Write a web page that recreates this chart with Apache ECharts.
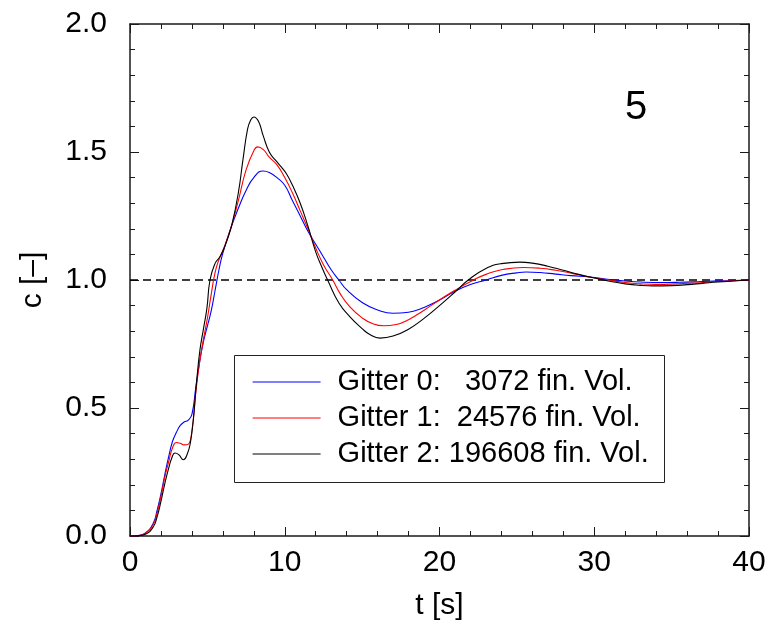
<!DOCTYPE html>
<html>
<head>
<meta charset="utf-8">
<title>c(t)</title>
<script src="https://cdn.jsdelivr.net/npm/echarts@6/dist/echarts.min.js"></script>
<style>
  html, body { margin: 0; padding: 0; background: #fff; }
  #chart { width: 769px; height: 626px; }
</style>
</head>
<body>
<div id="chart"></div>
<script>
// Concentration response c(t) for three grid refinements

const seriesNames = [
  'Gitter 0:   3072 fin. Vol.',
  'Gitter 1:  24576 fin. Vol.',
  'Gitter 2: 196608 fin. Vol.'
];

const xTicks = [0, 10, 20, 30, 40];
const yTicks = [0.0, 0.5, 1.0, 1.5, 2.0];
const refLevel = 1.0;
const panelLabel = '5';

// Gitter 0
const t0 = [0, 0.5, 1.0, 1.5, 1.75, 2.0, 2.25, 2.5, 2.75, 3.0, 3.25, 3.5, 3.75, 4.0, 4.25, 4.5, 4.75, 5.0, 5.25, 5.5, 5.75, 6.0, 6.5, 7.0, 7.5, 8.0, 8.6, 9.0, 9.5, 10.0, 10.5, 11.0, 11.5, 12.0, 12.5, 13.0, 13.5, 14.0, 15.0, 16.0, 17.0, 18.0, 19.0, 20.0, 21.0, 22.0, 23.0, 24.0, 25.0, 25.6, 26.5, 27.5, 28.5, 29.7, 31.0, 32.0, 33.0, 34.4, 35.5, 37.0, 38.5, 40.0];
const c0 = [0, 0.002, 0.012, 0.05, 0.1, 0.165, 0.24, 0.31, 0.37, 0.405, 0.432, 0.445, 0.452, 0.475, 0.58, 0.68, 0.76, 0.82, 0.88, 0.96, 1.04, 1.105, 1.2, 1.28, 1.35, 1.4, 1.426, 1.42, 1.4, 1.37, 1.31, 1.25, 1.19, 1.14, 1.09, 1.04, 1.0, 0.962, 0.912, 0.883, 0.87, 0.874, 0.893, 0.922, 0.956, 0.982, 1.0, 1.018, 1.028, 1.031, 1.029, 1.023, 1.017, 1.012, 1.002, 0.996, 0.992, 0.99, 0.991, 0.994, 0.997, 1.0];

// Gitter 1
const t1 = [0, 0.5, 1.0, 1.5, 1.75, 2.0, 2.25, 2.5, 2.75, 3.0, 3.25, 3.5, 3.75, 4.0, 4.25, 4.5, 4.75, 5.0, 5.25, 5.5, 5.75, 6.0, 6.5, 7.0, 7.5, 8.0, 8.25, 8.6, 9.0, 9.5, 10.0, 10.5, 11.0, 11.5, 12.0, 12.5, 13.1, 13.6, 14.2, 15.0, 15.7, 16.4, 17.2, 18.0, 19.0, 20.0, 21.0, 22.2, 23.0, 24.0, 25.4, 26.5, 27.5, 28.5, 29.7, 31.0, 32.0, 33.0, 34.0, 35.0, 36.5, 38.0, 40.0];
const c1 = [0, 0.001, 0.01, 0.045, 0.09, 0.155, 0.23, 0.29, 0.345, 0.365, 0.362, 0.356, 0.358, 0.41, 0.56, 0.68, 0.77, 0.85, 0.945, 1.03, 1.08, 1.115, 1.2, 1.31, 1.43, 1.505, 1.52, 1.51, 1.48, 1.45, 1.4, 1.34, 1.27, 1.2, 1.125, 1.06, 1.0, 0.945, 0.896, 0.852, 0.829, 0.821, 0.826, 0.845, 0.882, 0.922, 0.96, 1.0, 1.022, 1.04, 1.049, 1.046, 1.038, 1.027, 1.012, 0.999, 0.99, 0.985, 0.983, 0.984, 0.988, 0.994, 1.0];

// Gitter 2
const t2 = [0, 0.5, 1.0, 1.5, 1.75, 2.0, 2.25, 2.5, 2.7, 2.9, 3.15, 3.45, 3.7, 3.9, 4.1, 4.3, 4.52, 4.75, 4.97, 5.17, 5.5, 5.8, 6.03, 6.3, 6.6, 7.0, 7.3, 7.6, 7.8, 8.0, 8.3, 8.6, 9.0, 9.4, 9.8, 10.1, 10.5, 11.0, 11.5, 12.0, 12.4, 12.77, 13.5, 14.2, 15.0, 15.5, 16.15, 17.0, 18.0, 19.0, 20.0, 21.0, 21.86, 23.0, 24.0, 25.2, 26.0, 27.0, 28.0, 29.0, 30.0, 31.0, 32.0, 33.0, 33.8, 35.0, 36.0, 37.0, 38.0, 39.0, 40.0];
const c2 = [0, 0.001, 0.007, 0.035, 0.075, 0.135, 0.205, 0.265, 0.305, 0.324, 0.318, 0.298, 0.32, 0.364, 0.46, 0.6, 0.727, 0.81, 0.89, 1.0, 1.065, 1.09, 1.117, 1.16, 1.22, 1.34, 1.47, 1.59, 1.625, 1.637, 1.62, 1.565, 1.5, 1.468, 1.44, 1.416, 1.37, 1.3, 1.21, 1.11, 1.05, 1.0, 0.91, 0.857, 0.81, 0.787, 0.773, 0.781, 0.808, 0.85, 0.9, 0.953, 1.0, 1.045, 1.064, 1.07, 1.066, 1.054, 1.038, 1.022, 1.008, 0.995, 0.985, 0.979, 0.977, 0.978, 0.982, 0.987, 0.992, 0.996, 1.0];

const lineColors = ['#0000ff', '#ff0000', '#000000'];

const FONT = '"Liberation Sans", Arial, Helvetica, sans-serif';
const frameColor = '#1a1a1a';

function pairs(ts, cs) {
  return ts.map((t, i) => [t, cs[i]]);
}

const chart = echarts.init(document.getElementById('chart'), null, { renderer: 'canvas' });

const xMin = xTicks[0], xMax = xTicks[xTicks.length - 1];
const yMin = yTicks[0], yMax = yTicks[yTicks.length - 1];

function xAxisCfg(pos, showLabels) {
  return {
    type: 'value', position: pos, min: xMin, max: xMax, interval: xTicks[1] - xTicks[0],
    axisLine: { show: true, onZero: false, lineStyle: { color: frameColor, width: 1.5 } },
    axisTick: { show: true, inside: true, length: 9, lineStyle: { color: frameColor, width: 1 } },
    minorTick: { show: true, splitNumber: 5, length: 5, lineStyle: { color: frameColor, width: 1 } },
    splitLine: { show: false },
    axisLabel: { show: showLabels, fontFamily: FONT, fontSize: 30, color: '#000', margin: 12 },
    name: showLabels ? 't [s]' : '',
    nameLocation: 'middle', nameGap: 55,
    nameTextStyle: { fontFamily: FONT, fontSize: 30, color: '#000' }
  };
}

function yAxisCfg(pos, showLabels) {
  return {
    type: 'value', position: pos, min: yMin, max: yMax, interval: yTicks[1] - yTicks[0],
    axisLine: { show: true, onZero: false, lineStyle: { color: frameColor, width: 1.5 } },
    axisTick: { show: true, inside: true, length: 9, lineStyle: { color: frameColor, width: 1 } },
    minorTick: { show: true, splitNumber: 5, length: 5, lineStyle: { color: frameColor, width: 1 } },
    splitLine: { show: false },
    axisLabel: {
      show: showLabels, fontFamily: FONT, fontSize: 30, color: '#000', margin: 23,
      formatter: v => v.toFixed(1)
    },
    name: showLabels ? 'c [\u2013]' : '',
    nameLocation: 'middle', nameGap: 82, nameRotate: 90,
    nameTextStyle: { fontFamily: FONT, fontSize: 30, color: '#000' }
  };
}

const dataSets = [pairs(t0, c0), pairs(t1, c1), pairs(t2, c2)];

const curveSeries = dataSets.map((d, i) => ({
  name: seriesNames[i],
  type: 'line',
  data: d,
  symbol: 'none',
  showSymbol: false,
  smooth: 0.5,
  lineStyle: { color: lineColors[i], width: 1.1 },
  itemStyle: { color: lineColors[i] },
  z: 3 + i,
  animation: false
}));

const option = {
  animation: false,
  backgroundColor: '#fff',
  grid: { left: 130, right: 20, top: 24, bottom: 90, containLabel: false },
  xAxis: [xAxisCfg('bottom', true), xAxisCfg('top', false)],
  yAxis: [yAxisCfg('left', true), yAxisCfg('right', false)],
  legend: {
    data: seriesNames,
    orient: 'vertical',
    left: 252, top: 367,
    padding: 0,
    itemWidth: 68, itemHeight: 14, itemGap: 6,
    itemStyle: { opacity: 0 },
    lineStyle: { width: 1.2 },
    textStyle: { fontFamily: FONT, fontSize: 29, color: '#000', lineHeight: 30, padding: [0, 0, 0, 12] },
    selectedMode: false
  },
  graphic: [
    {
      type: 'rect', z: 1,
      shape: { x: 234.5, y: 355.5, width: 430, height: 127 },
      style: { fill: '#fff', stroke: '#222', lineWidth: 1 }
    },
    {
      type: 'text', z: 10,
      style: {
        text: panelLabel, x: 636, y: 108,
        font: '40px ' + FONT, fill: '#000',
        align: 'center', verticalAlign: 'middle'
      }
    }
  ],
  series: [
    {
      name: 'ref', type: 'line',
      data: [[xMin, refLevel], [xMax, refLevel]],
      symbol: 'none',
      lineStyle: { color: '#000', width: 1.5, type: [8, 5] },
      z: 2, silent: true
    }
  ].concat(curveSeries)
};

chart.setOption(option);
</script>
</body>
</html>
